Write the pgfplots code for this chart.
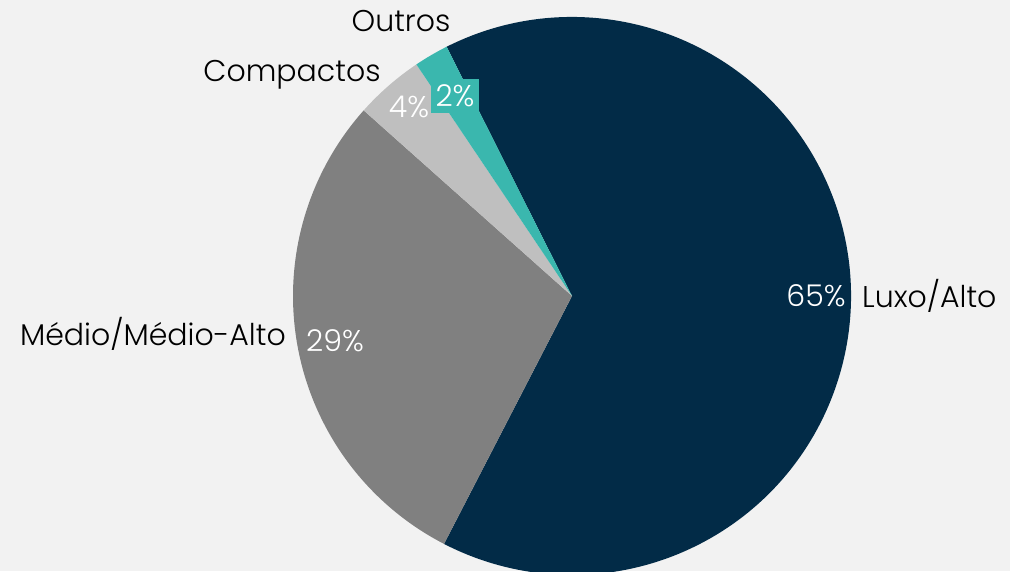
\documentclass[border=0pt]{standalone}
\usepackage{pgfplots}
\pgfplotsset{compat=1.18}
\usepackage{fontspec}
\setmainfont{Poppins}[UprightFont={* Light}]
\definecolor{bg}{RGB}{242,242,242}
\definecolor{navy}{RGB}{2,43,71}
\definecolor{midgray}{RGB}{128,128,128}
\definecolor{lightgray}{RGB}{191,191,191}
\definecolor{teal}{RGB}{58,183,174}
% shares in percent, clockwise from the start angle
\def\pLuxo{65}
\def\pMedio{29}
\def\pCompactos{4}
\def\pOutros{2}
\pgfmathsetmacro\aA{116.7}
\pgfmathsetmacro\aB{\aA-3.6*\pLuxo}
\pgfmathsetmacro\aC{\aB-3.6*\pMedio}
\pgfmathsetmacro\aD{\aC-3.6*\pCompactos}
\pgfmathsetmacro\aE{\aD-3.6*\pOutros}
\begin{document}
\begin{tikzpicture}
\begin{axis}[
  width=1010pt, height=571pt, scale only axis,
  xmin=0, xmax=1010, ymin=0, ymax=571,
  axis lines=none, ticks=none,
]
\fill[bg] (axis cs:0,0) rectangle (axis cs:1010,571);
\fill[navy] (axis cs:572,275) -- ++(\aA:279pt) arc[start angle=\aA, end angle=\aB, radius=279pt] -- cycle;
\fill[midgray] (axis cs:572,275) -- ++(\aB:279pt) arc[start angle=\aB, end angle=\aC, radius=279pt] -- cycle;
\fill[lightgray] (axis cs:572,275) -- ++(\aC:279pt) arc[start angle=\aC, end angle=\aD, radius=279pt] -- cycle;
\fill[teal] (axis cs:572,275) -- ++(\aD:279pt) arc[start angle=\aD, end angle=\aE, radius=279pt] -- cycle;
\begin{scope}[every node/.style={font=\fontsize{30}{35}\selectfont, inner sep=0pt}]
\node[white] at (axis cs:816,275) {65\%};
\node[black, anchor=west] at (axis cs:862,275) {Luxo/Alto};
\node[white] at (axis cs:335,230) {29\%};
\node[black, anchor=east] at (axis cs:286,237) {Médio/Médio-Alto};
\node[white] at (axis cs:409,464) {4\%};
\node[white, fill=teal, inner xsep=5pt, minimum height=34pt] at (axis cs:455,475) {2\%};
\node[black] at (axis cs:292,496) {Compactos};
\node[black] at (axis cs:401,550) {Outros};
\end{scope}
\end{axis}
\end{tikzpicture}
\end{document}
